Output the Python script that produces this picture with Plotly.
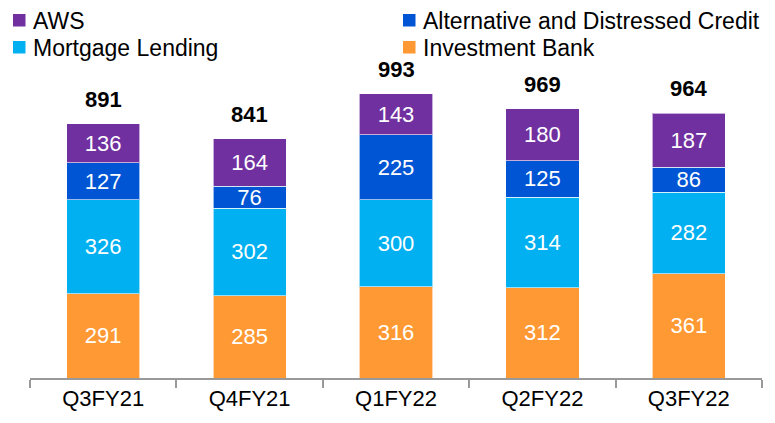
import plotly.graph_objects as go

quarters = ["Q3FY21", "Q4FY21", "Q1FY22", "Q2FY22", "Q3FY22"]
investment_bank = [291, 285, 316, 312, 361]
mortgage_lending = [326, 302, 300, 314, 282]
alt_distressed = [127, 76, 225, 125, 86]
aws = [136, 164, 143, 180, 187]
totals = [891, 841, 993, 969, 964]

series = [
    ("Investment Bank", investment_bank, "#FF9933"),
    ("Mortgage Lending", mortgage_lending, "#00B0F0"),
    ("Alternative and Distressed Credit", alt_distressed, "#0055D4"),
    ("AWS", aws, "#7030A0"),
]

FONT = "Liberation Sans, Arial, sans-serif"
W, H = 775, 423
ML_, MR_, MT_, MB_ = 22, 21, 52, 53
PW, PH = W - ML_ - MR_, H - MT_ - MB_


def px_x(x):
    return (x - ML_) / PW


def px_y(y):
    return (H - MB_ - y) / PH


fig = go.Figure()
for name, vals, color in series:
    fig.add_trace(go.Bar(
        x=quarters, y=vals, name=name, showlegend=False,
        marker=dict(color=color, line=dict(color="rgba(255,255,255,0.6)", width=1)),
        text=[str(v) for v in vals], textposition="inside",
        insidetextanchor="middle", textangle=0, constraintext="none",
        textfont=dict(color="white", size=22, family=FONT),
    ))

stack_tops = [a + b + c + d for a, b, c, d in zip(investment_bank, mortgage_lending, alt_distressed, aws)]
for q, top, t in zip(quarters, stack_tops, totals):
    fig.add_annotation(x=q, y=top, text=f"<b>{t}</b>", showarrow=False,
                       yanchor="bottom", yshift=10,
                       font=dict(size=22, color="black", family=FONT))

# custom two-column legend (AWS / ADC on row 1, ML / IB on row 2)
legend_slots = {
    "AWS": (5, 6),
    "Mortgage Lending": (5, 33),
    "Alternative and Distressed Credit": (395, 6),
    "Investment Bank": (395, 33),
}
for name, vals, color in series:
    sx, sy = legend_slots[name]
    fig.add_shape(type="rect", xref="paper", yref="paper",
                  x0=px_x(sx), x1=px_x(sx + 12.5), y0=px_y(sy + 12.5), y1=px_y(sy),
                  fillcolor=color, line=dict(width=0))
    fig.add_annotation(xref="paper", yref="paper", x=px_x(sx + 19), y=px_y(sy + 7),
                       text=name, showarrow=False, xanchor="left", yanchor="middle",
                       borderpad=0, font=dict(size=23, color="black", family=FONT))

fig.update_layout(
    width=W, height=H,
    barmode="stack", bargap=0.5,
    plot_bgcolor="white", paper_bgcolor="white",
    margin=dict(l=ML_, r=MR_, t=MT_, b=MB_, autoexpand=False),
    font=dict(family=FONT, size=22, color="black"),
    showlegend=False,
)
fig.update_xaxes(showline=True, linecolor="#999999", linewidth=1.5,
                 ticks="outside", tickson="boundaries", ticklen=8,
                 tickcolor="#999999", tickwidth=1.5,
                 tickfont=dict(size=22, family=FONT, color="black"))
fig.update_yaxes(range=[0, 1100], visible=False, showgrid=False)

fig.write_html("out.html")
